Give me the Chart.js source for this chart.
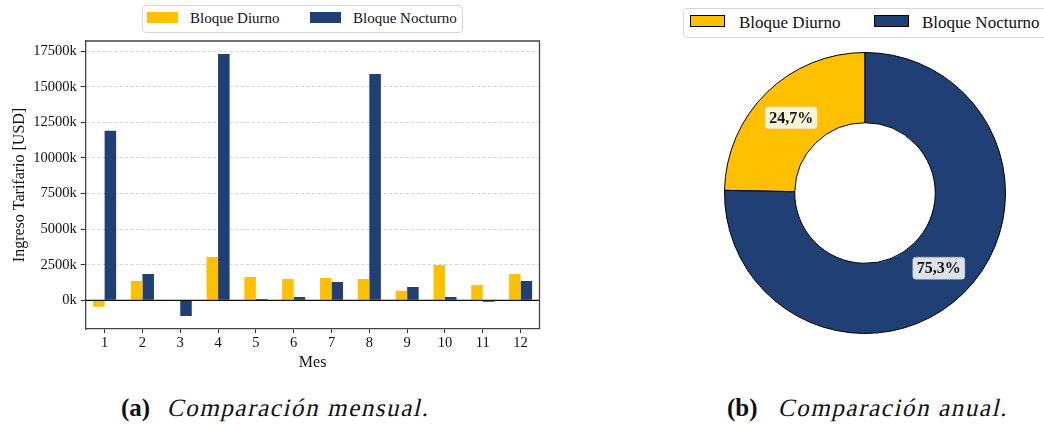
<!DOCTYPE html>
<html lang="es">
<head>
<meta charset="utf-8">
<title>Ingreso Tarifario por bloque horario</title>
<script src="https://cdn.jsdelivr.net/npm/chart.js@4.4.1/dist/chart.umd.min.js"></script>
<style>
  html, body { margin: 0; padding: 0; background: #fff; }
  body { width: 1044px; height: 426px; position: relative; overflow: hidden;
         font-family: 'Liberation Serif', 'Times New Roman', serif; color: #111; }
  canvas { position: absolute; display: block; }
  .legend { position: absolute; box-sizing: border-box; border: 1px solid #d6d6d6;
            border-radius: 4px; background: #fff; white-space: nowrap; }
  .legend .sw { position: absolute; box-sizing: border-box; }
  .legend .tx { position: absolute; line-height: 1; }
  .caption { position: absolute; font-family: 'Liberation Serif', serif; font-size: 25px;
             line-height: 25px; white-space: nowrap; }
  .caption b { font-weight: bold; margin-right: 17px; }
  .caption .it { display: inline-block; font-family: 'Liberation Serif', serif; font-style: normal;
                 letter-spacing: 1.6px; transform: skewX(-13deg); transform-origin: 0 80%; }
</style>
</head>
<body>
<canvas id="barras" width="550" height="380" style="left:0;top:0;width:550px;height:380px"></canvas>
<canvas id="anillo" width="282" height="282" style="left:724px;top:52px;width:282px;height:282px"></canvas>

<div class="legend" id="leyendaMensual" style="left:142px;top:5px;width:321px;height:28px;font-size:15px"></div>
<div class="legend" id="leyendaAnual" style="left:683px;top:8px;width:380px;height:30px;font-size:17px"></div>

<div class="caption" style="left:121px;top:395px"><b>(a)</b><span class="it">Comparación mensual.</span></div>
<div class="caption" style="left:727px;top:395px"><b>(b)</b><span class="it" style="margin-left:3px">Comparación anual.</span></div>

<script>
// Meses del año y ingreso tarifario por bloque horario (miles de USD)
const meses = ['1', '2', '3', '4', '5', '6', '7', '8', '9', '10', '11', '12'];
const ingresoDiurno = [-450, 1355, -30, 3040, 1636, 1495, 1565, 1495, 674, 2478, 1074, 1846];
const ingresoNocturno = [11905, 1846, -1090, 17290, 90, 230, 1285, 15885, 934, 230, -100, 1355];

// Participación anual de cada bloque (%)
const bloques = ['Bloque Diurno', 'Bloque Nocturno'];
const participacionAnual = [24.7, 75.3];

// Marcas del eje vertical (miles de USD) y límites del eje
const marcasY = [0, 2500, 5000, 7500, 10000, 12500, 15000, 17500];
const limiteY = { min: -2010, max: 18210 };

const AMARILLO = '#FFC000';
const AZUL = '#1F3F75';
const SERIF = "'Liberation Serif', 'Times New Roman', serif";

Chart.defaults.font.family = SERIF;
Chart.defaults.color = '#111';

// Leyendas en HTML
function leyenda(id, items, cfg) {
  const el = document.getElementById(id);
  items.forEach((it, i) => {
    const sw = document.createElement('div');
    sw.className = 'sw';
    Object.assign(sw.style, {
      left: cfg.sw[i] + 'px', top: cfg.swTop + 'px', width: cfg.swW + 'px', height: cfg.swH + 'px',
      background: it.color, border: cfg.border
    });
    const tx = document.createElement('div');
    tx.className = 'tx';
    tx.textContent = it.label;
    Object.assign(tx.style, { left: cfg.tx[i] + 'px', top: cfg.txTop + 'px' });
    el.appendChild(sw);
    el.appendChild(tx);
  });
}
const itemsLeyenda = [{ label: bloques[0], color: AMARILLO }, { label: bloques[1], color: AZUL }];
leyenda('leyendaMensual', itemsLeyenda, {
  sw: [4, 167], tx: [47, 210], swTop: 6, swW: 31, swH: 11, txTop: 5, border: 'none'
});
leyenda('leyendaAnual', itemsLeyenda, {
  sw: [6, 190], tx: [55, 238], swTop: 6, swW: 35, swH: 12, txTop: 5, border: '1px solid #000'
});

// Marco del gráfico y línea de cero
const marcoYCero = {
  id: 'marcoYCero',
  afterDraw(chart) {
    const { ctx, chartArea: a, scales } = chart;
    const y0 = scales.y.getPixelForValue(0);
    ctx.save();
    ctx.strokeStyle = '#111';
    ctx.lineWidth = 1.2;
    ctx.beginPath();
    ctx.moveTo(a.left, y0);
    ctx.lineTo(a.right, y0);
    ctx.stroke();
    ctx.strokeStyle = '#444';
    ctx.lineWidth = 1.3;
    ctx.beginPath();
    ctx.moveTo(a.left, a.top);
    ctx.lineTo(a.right, a.top);
    ctx.lineTo(a.right, a.bottom);
    ctx.stroke();
    ctx.restore();
  }
};

new Chart(document.getElementById('barras'), {
  type: 'bar',
  data: {
    labels: meses,
    datasets: [
      { label: bloques[0], data: ingresoDiurno, backgroundColor: AMARILLO },
      { label: bloques[1], data: ingresoNocturno, backgroundColor: AZUL }
    ]
  },
  options: {
    responsive: false,
    devicePixelRatio: 1,
    animation: false,
    categoryPercentage: 0.61,
    barPercentage: 1.0,
    layout: { padding: { top: 41, right: 10.5, bottom: 0, left: 0 } },
    plugins: { legend: { display: false }, tooltip: { enabled: false } },
    scales: {
      x: {
        offset: true,
        grid: { display: true, offset: false, drawOnChartArea: false, drawTicks: true,
                tickLength: 4, tickColor: '#333', tickWidth: 1 },
        border: { display: true, color: '#444', width: 1.3 },
        ticks: { padding: 1, font: { size: 14.5 }, color: '#111', maxRotation: 0 },
        title: { display: true, text: 'Mes', font: { size: 16 }, color: '#111',
                 padding: { top: 0, bottom: 8 } },
        afterFit(s) { s.height = 51; }
      },
      y: {
        z: 1,
        min: limiteY.min,
        max: limiteY.max,
        afterBuildTicks(s) { s.ticks = marcasY.map(v => ({ value: v })); },
        grid: { color: 'rgba(170,170,170,0.45)', lineWidth: 1, drawTicks: true,
                tickLength: 5, tickColor: '#333', tickWidth: 1, tickBorderDash: [] },
        border: { display: true, color: '#444', width: 1.3, dash: [3.5, 2] },
        ticks: { padding: 4, font: { size: 14.5 }, color: '#111',
                 callback: v => v + 'k' },
        title: { display: true, text: 'Ingreso Tarifario [USD]', font: { size: 16 }, color: '#111',
                 padding: { top: 10, bottom: 0 } },
        afterFit(s) { s.width = 85.7; }
      }
    }
  },
  plugins: [marcoYCero]
});

// Etiquetas de porcentaje sobre el anillo
const etiquetasAnillo = {
  id: 'etiquetasAnillo',
  afterDatasetsDraw(chart) {
    const { ctx } = chart;
    const meta = chart.getDatasetMeta(0);
    const valores = chart.data.datasets[0].data;
    ctx.save();
    ctx.font = 'bold 16px ' + SERIF;
    ctx.textAlign = 'center';
    ctx.textBaseline = 'middle';
    meta.data.forEach((arc, i) => {
      const p = arc.getProps(['x', 'y', 'startAngle', 'endAngle', 'outerRadius']);
      const mid = (p.startAngle + p.endAngle) / 2;
      const r = p.outerRadius * 0.75;
      const cx = p.x + Math.cos(mid) * r;
      const cy = p.y + Math.sin(mid) * r;
      const txt = valores[i].toFixed(1).replace('.', ',') + '%';
      const w = ctx.measureText(txt).width + 8;
      const h = 22;
      ctx.beginPath();
      ctx.roundRect(cx - w / 2, cy - h / 2, w, h, 3);
      ctx.fillStyle = 'rgba(255,255,255,0.85)';
      ctx.fill();
      ctx.strokeStyle = 'rgba(200,200,200,0.6)';
      ctx.lineWidth = 0.8;
      ctx.stroke();
      ctx.fillStyle = '#111';
      ctx.fillText(txt, cx, cy + 1);
    });
    ctx.restore();
  }
};

const totalAnual = participacionAnual.reduce((a, b) => a + b, 0);
new Chart(document.getElementById('anillo'), {
  type: 'doughnut',
  data: {
    labels: bloques,
    datasets: [{
      data: participacionAnual,
      backgroundColor: [AMARILLO, AZUL],
      borderColor: '#000',
      borderWidth: 1
    }]
  },
  options: {
    responsive: false,
    devicePixelRatio: 1,
    animation: false,
    cutout: '50%',
    rotation: -participacionAnual[0] / totalAnual * 360,
    layout: { padding: 0 },
    plugins: { legend: { display: false }, tooltip: { enabled: false } }
  },
  plugins: [etiquetasAnillo]
});
</script>
</body>
</html>
